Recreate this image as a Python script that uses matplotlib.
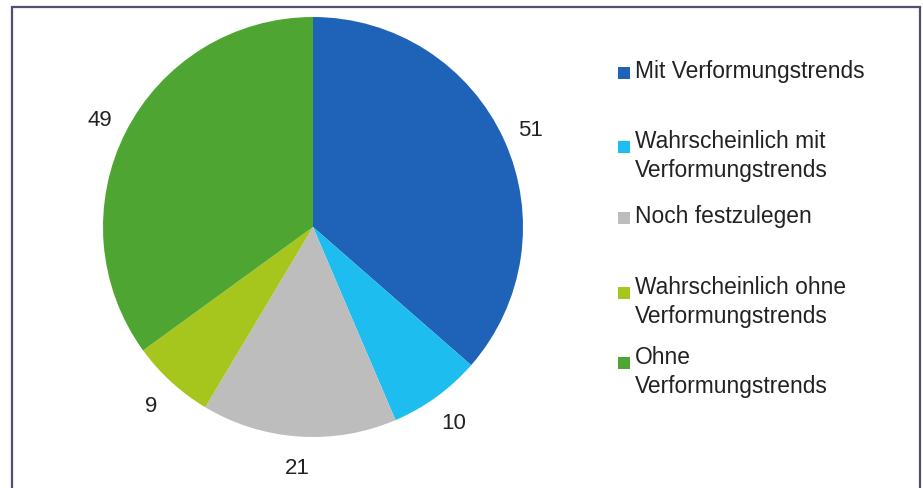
import matplotlib.pyplot as plt
from matplotlib.patches import Rectangle

# Kategorien und Werte (im Uhrzeigersinn ab 12 Uhr)
kategorien = ["Mit Verformungstrends",
              "Wahrscheinlich mit\nVerformungstrends",
              "Noch festzulegen",
              "Wahrscheinlich ohne\nVerformungstrends",
              "Ohne\nVerformungstrends"]
werte = [51, 10, 21, 9, 49]
farben = ["#1f63b8", "#1dbdf0", "#bdbdbd", "#a6c61e", "#4fa531"]
legende_y = [78, 152, 223, 298, 368]  # Grundlinie der ersten Textzeile (Pixel)

W, H = 923, 488
fig = plt.figure(figsize=(W / 100, H / 100), dpi=100)
plt.rcParams['font.family'] = ['Liberation Sans', 'DejaVu Sans']

# Rahmen
fig.patches.append(Rectangle((12 / W, -0.05), (920 - 12) / W, (H - 7) / H + 0.05,
                             transform=fig.transFigure, fill=False,
                             edgecolor="#50506e", linewidth=1.6))

cx, cy, r = 313, 227, 210
ax = fig.add_axes([(cx - r) / W, (H - cy - r) / H, 2 * r / W, 2 * r / H])
wedges, texte = ax.pie(werte, colors=farben, startangle=90, counterclock=False,
                       labels=[str(v) for v in werte], labeldistance=1.14,
                       wedgeprops=dict(linewidth=0),
                       textprops=dict(fontsize=16, color="#222222"))
for t in texte:
    t.set_ha("center")
    t.set_va("center_baseline")
ax.set_xlim(-1, 1)
ax.set_ylim(-1, 1)
ax.set_aspect("equal")
ax.axis("off")

# Legende
zeilenabstand = 24.5
for name, farbe, y in zip(kategorien, farben, legende_y):
    fig.patches.append(Rectangle((618 / W, 1 - (y + 1) / H), 12 / W, 12 / H,
                                 transform=fig.transFigure, facecolor=farbe,
                                 edgecolor="none"))
    letzte = y + zeilenabstand * name.count("\n")
    fig.text(635 / W, 1 - letzte / H, name, fontsize=16.4, color="#222222",
             va="baseline", ha="left", linespacing=1.28)

fig.savefig("out.png", dpi=100)
